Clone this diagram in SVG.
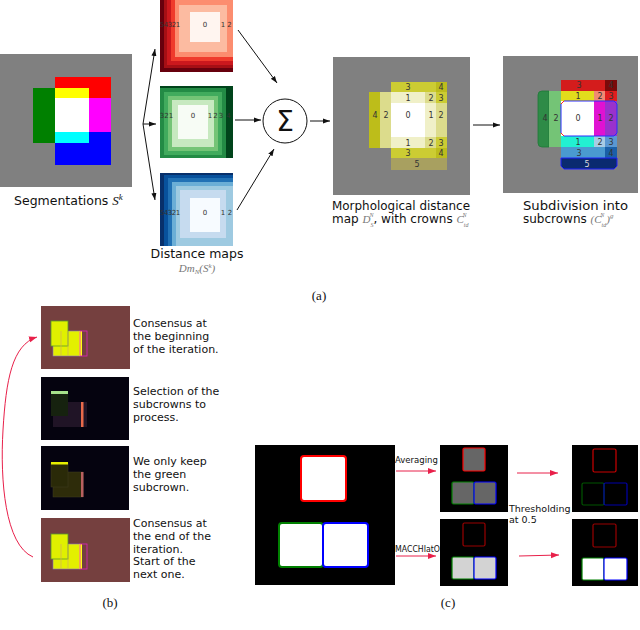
<svg xmlns="http://www.w3.org/2000/svg" width="640" height="630" viewBox="0 0 640 630">
<defs>
<style>
.t{font-family:"DejaVu Sans","Liberation Sans",sans-serif;fill:#111}
.n{font-family:"DejaVu Sans","Liberation Sans",sans-serif;font-size:8px;fill:#333;text-anchor:middle}
.s{font-size:7px}
.m{font-family:"Liberation Serif","DejaVu Serif",serif;font-style:italic;fill:#777}
.cap{font-family:"Liberation Serif","DejaVu Serif",serif;font-size:13px;fill:#111;text-anchor:middle}
.bt{font-family:"DejaVu Sans","Liberation Sans",sans-serif;font-size:11px;fill:#111}
.ct{font-family:"DejaVu Sans","Liberation Sans",sans-serif;font-size:8.5px;fill:#111}
.k{stroke:#111;stroke-width:1;fill:none}
.r{stroke:#e8204a;stroke-width:1;fill:none}
</style>
<marker id="ah" markerWidth="8" markerHeight="8" refX="7" refY="4" orient="auto" markerUnits="userSpaceOnUse"><path d="M0,1.5 L7,4 L0,6.5 z" fill="#111"/></marker>
<marker id="rh" markerWidth="9" markerHeight="9" refX="8" refY="4.5" orient="auto" markerUnits="userSpaceOnUse"><path d="M0,1.5 L8,4.5 L0,7.5 z" fill="#e8204a"/></marker>
</defs>
<rect width="640" height="630" fill="#fff"/>

<g id="segmentation">
<rect x="0" y="54" width="132" height="133" fill="#808080"/>
<rect x="55" y="77" width="56" height="21" fill="#ff0000"/>
<rect x="55" y="88" width="34" height="10" fill="#ffff00"/>
<rect x="33" y="88" width="22" height="55" fill="#008000"/>
<rect x="55" y="98" width="34" height="34" fill="#ffffff"/>
<rect x="89" y="98" width="22" height="34" fill="#ff00ff"/>
<rect x="55" y="132" width="56" height="33" fill="#0000ff"/>
<rect x="55" y="132" width="34" height="11" fill="#00ffff"/>
<text class="t" x="14" y="205" font-size="12.5">Segmentations <tspan font-family="Liberation Serif,serif" font-style="italic" font-size="13">S</tspan><tspan font-family="Liberation Serif,serif" font-style="italic" font-size="9" dy="-5">k</tspan></text>
</g>

<g id="dmap-red">
<rect x="160" y="0" width="73" height="72" fill="#67000d"/>
<rect x="164" y="0" width="69" height="68" fill="#a50f15"/>
<rect x="167" y="0" width="66" height="65" fill="#cb181d"/>
<rect x="171" y="0" width="62" height="61" fill="#ef3b2c"/>
<rect x="175" y="0" width="58" height="57" fill="#fc8d6f"/>
<rect x="179" y="5" width="48" height="47" fill="#fcbba1"/>
<rect x="190" y="12" width="30" height="30" fill="#fff5f0"/>
<g class="n s"><text x="162" y="27">5</text><text x="166" y="27">4</text><text x="170" y="27">3</text><text x="174" y="27">2</text><text x="178" y="27">1</text><text x="205" y="27">0</text><text x="223" y="27">1</text><text x="229.5" y="27">2</text></g>
</g>

<g id="dmap-green">
<rect x="160" y="86" width="73" height="72" fill="#00441b"/>
<rect x="160" y="88" width="66" height="70" fill="#238b45"/>
<rect x="164" y="92" width="58" height="63" fill="#41ab5d"/>
<rect x="168" y="96" width="50" height="55" fill="#74c476"/>
<rect x="172" y="100" width="42" height="47" fill="#c7e9c0"/>
<rect x="178" y="105" width="30" height="34" fill="#f7fcf5"/>
<g class="n s"><text x="162" y="118">3</text><text x="166.5" y="118">2</text><text x="171" y="118">1</text><text x="193" y="118">0</text><text x="210" y="118">1</text><text x="215.5" y="118">2</text><text x="221" y="118">3</text><text x="228.5" y="118">4</text></g>
</g>

<g id="dmap-blue">
<rect x="160" y="173" width="73" height="73" fill="#08306b"/>
<rect x="164" y="175" width="69" height="71" fill="#08519c"/>
<rect x="168" y="178" width="65" height="68" fill="#2171b5"/>
<rect x="172" y="182" width="61" height="64" fill="#6baed6"/>
<rect x="176" y="186" width="57" height="60" fill="#9ecae1"/>
<rect x="180" y="190" width="46" height="48" fill="#c6dbef"/>
<rect x="190" y="198" width="30" height="34" fill="#f7fbff"/>
<g class="n s"><text x="162" y="215">5</text><text x="166" y="215">4</text><text x="170" y="215">3</text><text x="174" y="215">2</text><text x="178" y="215">1</text><text x="205" y="215">0</text><text x="223" y="215">1</text><text x="230" y="215">2</text></g>
<text class="t" x="197" y="258" font-size="12.5" text-anchor="middle">Distance maps</text>
<text class="m" x="197" y="272" font-size="11" text-anchor="middle">Dm<tspan font-size="7" dy="2">N</tspan><tspan dy="-2">(S</tspan><tspan font-size="7" dy="-4">k</tspan><tspan dy="4">)</tspan></text>
</g>

<g id="sum">
<circle cx="285" cy="121" r="22" fill="#fff" stroke="#111" stroke-width="1"/>
<text x="285" y="131" font-family="DejaVu Sans,sans-serif" font-size="28" text-anchor="middle" fill="#111">Σ</text>
</g>

<g id="morph-map">
<rect x="333" y="57" width="137" height="138" fill="#808080"/>
<rect x="369" y="92" width="11" height="56" fill="#bdbd1a"/>
<rect x="380" y="92" width="11" height="56" fill="#dcdc8c"/>
<rect x="391" y="82" width="45" height="10" fill="#cccc33"/>
<rect x="436" y="82" width="11" height="10" fill="#bcbc1c"/>
<rect x="391" y="92" width="34" height="11" fill="#f0f0c8"/>
<rect x="425" y="92" width="11" height="11" fill="#dcdc8c"/>
<rect x="436" y="92" width="11" height="11" fill="#cccc33"/>
<rect x="391" y="103" width="34" height="34" fill="#ffffff"/>
<rect x="425" y="103" width="11" height="34" fill="#f0f0c8"/>
<rect x="436" y="103" width="11" height="34" fill="#dcdc8c"/>
<rect x="391" y="137" width="34" height="11" fill="#f0f0c8"/>
<rect x="425" y="137" width="11" height="11" fill="#dcdc8c"/>
<rect x="436" y="137" width="11" height="11" fill="#cccc33"/>
<rect x="391" y="148" width="45" height="10" fill="#cccc33"/>
<rect x="436" y="148" width="11" height="10" fill="#bcbc1c"/>
<rect x="391" y="158" width="56" height="12" fill="#a8a060"/>
<g class="n"><text x="408" y="90">3</text><text x="441" y="90">4</text><text x="408" y="101">1</text><text x="431" y="101">2</text><text x="441" y="101">3</text><text x="375" y="118">4</text><text x="386" y="118">2</text><text x="408" y="118">0</text><text x="431" y="118">1</text><text x="441" y="118">2</text><text x="408" y="146">1</text><text x="431" y="146">2</text><text x="441" y="146">3</text><text x="408" y="156">3</text><text x="441" y="156">4</text><text x="417" y="167">5</text></g>
<text class="t" x="332" y="210" font-size="12" textLength="138" lengthAdjust="spacingAndGlyphs">Morphological distance</text>
<text class="t" x="332" y="223" font-size="12">map <tspan class="m" font-size="11">D</tspan><tspan class="m" font-size="6" dy="3.5">S</tspan><tspan class="m" font-size="6" dx="-4" dy="-9.5">N</tspan><tspan dy="6">, with crowns </tspan><tspan class="m" font-size="11">C</tspan><tspan class="m" font-size="6" dy="3.5">td</tspan><tspan class="m" font-size="6" dx="-6" dy="-9.5">N</tspan></text>
</g>

<g id="subcrowns">
<rect x="503" y="56" width="135" height="137" fill="#808080"/>
<path d="M542,91 H549 V147 H542 Q538,147 538,143 V95 Q538,91 542,91 Z" fill="#2e8b47" stroke="#1f7a38" stroke-width="0.8"/>
<rect x="549" y="91" width="12" height="56" fill="#74c476"/>
<rect x="561" y="80" width="44" height="11" fill="#d41c1c"/>
<rect x="605" y="80" width="12" height="11" fill="#7a0a0a"/>
<rect x="561" y="91" width="33" height="10" fill="#e2dc1c"/>
<rect x="594" y="91" width="11" height="10" fill="#f08a72"/>
<rect x="605" y="91" width="12" height="10" fill="#e01e1e"/>
<rect x="561" y="101" width="33" height="35" fill="#ffffff"/>
<rect x="594" y="101" width="11" height="35" fill="#e012d2"/>
<rect x="605" y="101" width="12" height="35" fill="#9a32cc"/>
<rect x="561" y="136" width="33" height="11" fill="#22f0d2"/>
<rect x="594" y="136" width="11" height="11" fill="#a8cce4"/>
<rect x="605" y="136" width="12" height="11" fill="#5a98d2"/>
<rect x="561" y="147" width="44" height="11" fill="#4a9ad0"/>
<rect x="605" y="147" width="12" height="11" fill="#1a60a8"/>
<path d="M561,158 H617 V166 L614,169 H564 L561,166 Z" fill="#0a2a70" stroke="#2020ff" stroke-width="1"/>
<path d="M564,101 H614 L617,104 V133 L614,136 H564 L561,133 V104 Z" fill="none" stroke="#2a2aff" stroke-width="1"/>
<path d="M561,133 L564,136 M561,104 L564,101" stroke="#ff2020" stroke-width="1"/>
<g class="n"><text x="579" y="88">3</text><text x="611" y="88">4</text><text x="578" y="99">1</text><text x="600" y="99">2</text><text x="611" y="99">3</text><text x="545" y="121">4</text><text x="556" y="121">2</text><text x="578" y="121">0</text><text x="600" y="121">1</text><text x="611" y="121">2</text><text x="578" y="145">1</text><text x="600" y="145">2</text><text x="611" y="145">3</text><text x="579" y="156">3</text><text x="611" y="156">4</text><text x="587" y="167" fill="#ddd">5</text></g>
<text class="t" x="523" y="210" font-size="12" textLength="105" lengthAdjust="spacingAndGlyphs">Subdivision into</text>
<text class="t" x="523" y="223" font-size="12">subcrowns <tspan class="m" font-size="11">(C</tspan><tspan class="m" font-size="6" dy="3.5">td</tspan><tspan class="m" font-size="6" dx="-6" dy="-9.5">N</tspan><tspan class="m" font-size="11" dx="2" dy="6">)</tspan><tspan class="m" font-size="7" dy="-5">g</tspan></text>
</g>

<text class="cap" x="319" y="300">(a)</text>

<g id="b-start">
<rect x="41" y="306" width="89" height="63" fill="#75403f"/>
<rect x="53" y="331" width="27" height="25" fill="#e3f000" stroke="#8a7cc0" stroke-width="0.6"/>
<rect x="51" y="321" width="17" height="25" fill="#e0f000" stroke="#5a9a2a" stroke-width="0.8"/>
<path d="M61,331 V356 M68,331 V356" stroke="#d0b060" stroke-width="0.7"/>
<rect x="79" y="331" width="3" height="25" fill="#ffff10"/>
<rect x="80" y="331" width="7" height="25" fill="none" stroke="#e020c0" stroke-width="0.8"/>
<text class="bt"><tspan x="133" y="327">Consensus at</tspan><tspan x="133" y="340">the beginning</tspan><tspan x="133" y="353">of the iteration.</tspan></text>
</g>
<g id="b-select">
<rect x="41" y="377" width="88" height="63" fill="#05030f"/>
<rect x="53" y="402" width="34" height="25" fill="#201426"/>
<rect x="51" y="393" width="17" height="23" fill="#16220f"/>
<rect x="51" y="391" width="17" height="3" fill="#a6e08a"/>
<rect x="81" y="402" width="2.5" height="25" fill="#e86a4a"/>
<text class="bt"><tspan x="133" y="395">Selection of the</tspan><tspan x="133" y="408">subcrowns to</tspan><tspan x="133" y="421">process.</tspan></text>
</g>
<g id="b-keep">
<rect x="41" y="446" width="88" height="64" fill="#05030f"/>
<rect x="53" y="472" width="30" height="25" fill="#2e2c0a" stroke="#403e20" stroke-width="0.5"/>
<rect x="51" y="463" width="17" height="24" fill="#2a2a08" stroke="#403e20" stroke-width="0.5"/>
<rect x="51" y="462" width="17" height="2.5" fill="#e8f000"/>
<rect x="81" y="472" width="2.5" height="25" fill="#b86060"/>
<text class="bt"><tspan x="133" y="465">We only keep</tspan><tspan x="133" y="478">the green</tspan><tspan x="133" y="491">subcrown.</tspan></text>
</g>
<g id="b-end">
<rect x="41" y="518" width="89" height="64" fill="#75403f"/>
<rect x="53" y="544" width="27" height="25" fill="#e3f000" stroke="#8a7cc0" stroke-width="0.6"/>
<rect x="51" y="534" width="17" height="25" fill="#e0f000" stroke="#5a9a2a" stroke-width="0.8"/>
<path d="M61,544 V569 M68,544 V569" stroke="#d0b060" stroke-width="0.7"/>
<rect x="79" y="544" width="3" height="25" fill="#ffff10"/>
<rect x="80" y="544" width="7" height="25" fill="none" stroke="#e020c0" stroke-width="0.8"/>
<text class="bt"><tspan x="133" y="527">Consensus at</tspan><tspan x="133" y="540">the end of the</tspan><tspan x="133" y="552.5">iteration.</tspan><tspan x="133" y="565">Start of the</tspan><tspan x="133" y="577.5">next one.</tspan></text>
</g>
<text class="cap" x="110" y="607">(b)</text>

<g id="c-input">
<rect x="255" y="445" width="140" height="140" fill="#000"/>
<rect x="301" y="456" width="45" height="45" rx="3" fill="#fff" stroke="#ff0000" stroke-width="2"/>
<rect x="279" y="523" width="44" height="44" rx="3" fill="#fff" stroke="#008000" stroke-width="2"/>
<rect x="323" y="523" width="45" height="44" rx="3" fill="#fff" stroke="#0000ff" stroke-width="2"/>
</g>
<g id="c-avg">
<rect x="440" y="445" width="68" height="67" fill="#000"/>
<rect x="463" y="448" width="22" height="23" rx="1.5" fill="#666" stroke="#ff0000" stroke-width="1.2"/>
<rect x="452" y="482" width="22" height="22" rx="1.5" fill="#666" stroke="#008000" stroke-width="1.2"/>
<rect x="474" y="482" width="22" height="22" rx="1.5" fill="#666" stroke="#0000ff" stroke-width="1.2"/>
</g>
<g id="c-macc">
<rect x="440" y="519" width="68" height="67" fill="#000"/>
<rect x="463" y="523" width="22" height="23" rx="1.5" fill="none" stroke="#990000" stroke-width="1.2"/>
<rect x="452" y="557" width="22" height="22" rx="1.5" fill="#d3d3d3" stroke="#008000" stroke-width="1.2"/>
<rect x="474" y="557" width="22" height="22" rx="1.5" fill="#d3d3d3" stroke="#0000ff" stroke-width="1.2"/>
</g>
<g id="c-avg-thr">
<rect x="572" y="445" width="66" height="67" fill="#000"/>
<rect x="593" y="449" width="23" height="23" rx="1.5" fill="none" stroke="#cc0000" stroke-width="1.2"/>
<rect x="582" y="483" width="22" height="22" rx="1.5" fill="none" stroke="#005500" stroke-width="1.2"/>
<rect x="604" y="483" width="23" height="22" rx="1.5" fill="none" stroke="#0000aa" stroke-width="1.2"/>
</g>
<g id="c-macc-thr">
<rect x="572" y="519" width="66" height="67" fill="#000"/>
<rect x="593" y="524" width="23" height="23" rx="1.5" fill="none" stroke="#990000" stroke-width="1.2"/>
<rect x="582" y="558" width="22" height="22" rx="1.5" fill="#fff" stroke="#008000" stroke-width="1.2"/>
<rect x="604" y="558" width="23" height="22" rx="1.5" fill="#fff" stroke="#0000ff" stroke-width="1.2"/>
</g>
<text class="ct" x="395" y="463">Averaging</text>
<text class="ct" x="395" y="552" textLength="45" lengthAdjust="spacingAndGlyphs">MACCHIatO</text>
<text class="t" font-size="9.5"><tspan x="509" y="512">Thresholding</tspan><tspan x="509" y="523">at 0.5</tspan></text>
<text class="cap" x="448" y="607">(c)</text>

<g id="connectors">
<path class="k" d="M143,124 L155,49" marker-end="url(#ah)"/>
<path class="k" d="M143,124 L156,124" marker-end="url(#ah)"/>
<path class="k" d="M143,124 L155,200" marker-end="url(#ah)"/>
<path class="k" d="M238,30 L277,83" marker-end="url(#ah)"/>
<path class="k" d="M235,120 L261,120" marker-end="url(#ah)"/>
<path class="k" d="M237,210 L274,149" marker-end="url(#ah)"/>
<path class="k" d="M310,121 L330,121" marker-end="url(#ah)"/>
<path class="k" d="M473,125 L500,125" marker-end="url(#ah)"/>
<path class="r" d="M33,557 C5,545 0,480 3,430 C6,380 12,345 37,337" marker-end="url(#rh)"/>
<path class="r" d="M396,471 L436,471" stroke-width="1.5" marker-end="url(#rh)"/>
<path class="r" d="M396,556 L436,556" stroke-width="1.5" marker-end="url(#rh)"/>
<path class="r" d="M517,473 L558,473" stroke-width="1.5" marker-end="url(#rh)"/>
<path class="r" d="M519,556 L559,555" stroke-width="1.5" marker-end="url(#rh)"/>
</g>
</svg>
